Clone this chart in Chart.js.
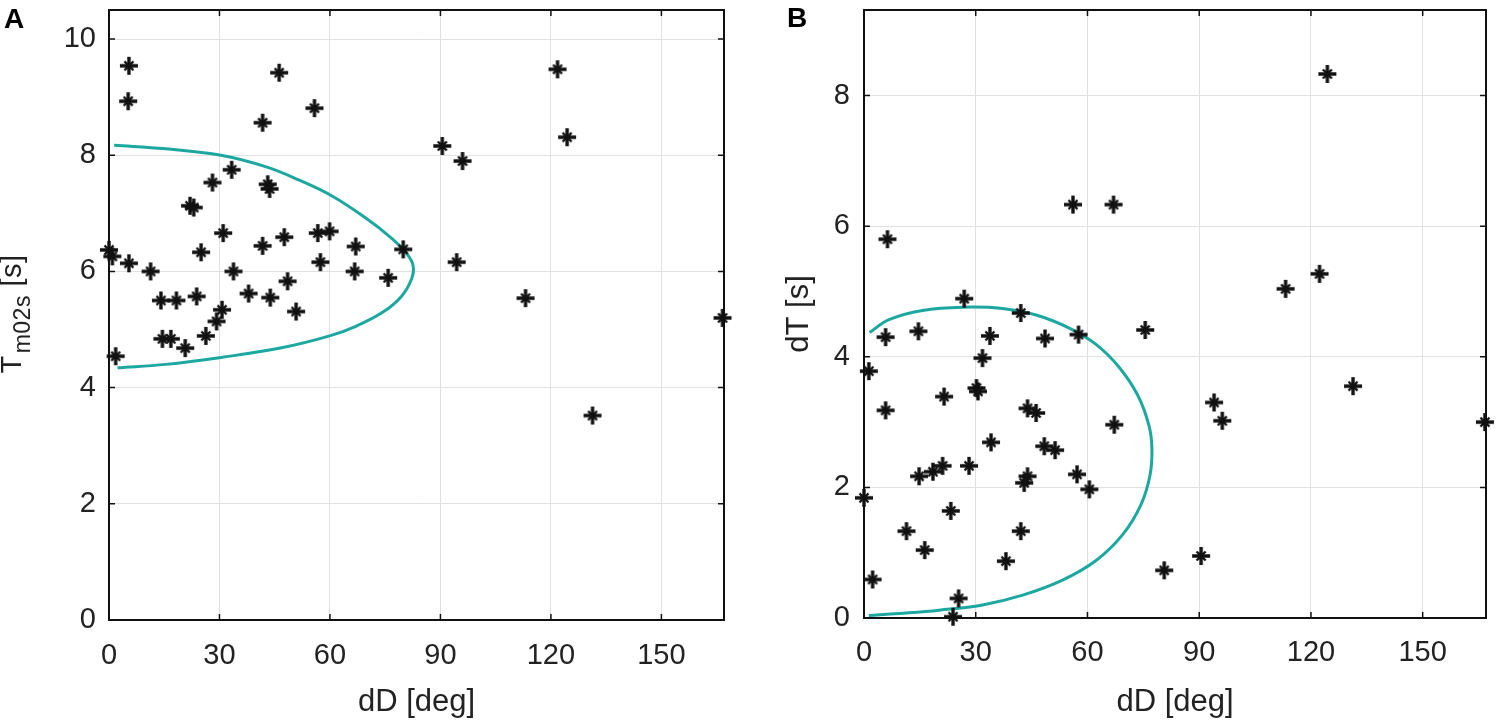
<!DOCTYPE html>
<html>
<head>
<meta charset="utf-8">
<script src="https://cdn.jsdelivr.net/npm/chart.js@4.4.1/dist/chart.umd.min.js"></script>
<style>
  body { margin: 0; background: #fff; }
  #wrap { position: relative; width: 1501px; height: 726px; overflow: hidden; }
  canvas { position: absolute; top: 0; }
  #chartA { left: 0; }
  #chartB { left: 750px; }
  .panel { position: absolute; font-family: "Liberation Sans", Arial, sans-serif;
           font-weight: bold; font-size: 28px; line-height: 1; color: #000; }
</style>
</head>
<body>
<div id="wrap">
  <canvas id="chartA" width="750" height="726"></canvas>
  <canvas id="chartB" width="751" height="726"></canvas>
  <div class="panel" style="left:4px; top:5px;">A</div>
  <div class="panel" style="left:787px; top:4px;">B</div>
</div>
<script>
// ---- panel A : Tm02s vs dD ----
const aDD = [5.4, 5.2, 46.2, 41.7, 55.8, 121.8, 124.4, 90.5, 96.0, 94.4, 113.1, 131.3, 166.6,
             33.3, 28.1, 43.1, 43.6, 22.0, 23.0, 31.0, 47.6, 41.7, 56.7, 59.9, 67.0, 79.9,
             25.0, 0.0, 0.9, 5.4, 11.3, 33.8, 57.4, 66.7, 75.8, 48.5, 14.1, 18.3, 23.8,
             37.9, 43.8, 50.8, 30.7, 29.2, 26.3, 14.5, 16.8, 20.7, 1.8];
const aTm = [9.54, 8.93, 9.42, 8.56, 8.81, 9.48, 8.31, 8.16, 7.90, 6.16, 5.54, 3.52, 5.20,
             7.75, 7.53, 7.50, 7.42, 7.13, 7.10, 6.66, 6.59, 6.44, 6.66, 6.69, 6.43, 6.38,
             6.33, 6.37, 6.26, 6.14, 6.00, 6.00, 6.16, 6.00, 5.89, 5.83, 5.50, 5.50, 5.57,
             5.62, 5.55, 5.31, 5.34, 5.14, 4.89, 4.84, 4.84, 4.68, 4.54];
const aCurveX = [1.4, 15.4, 30.4, 42.7, 51.7, 60.8, 69.9, 76.2, 80.8, 82.6, 82.1, 79.4,
                 74.4, 67.2, 59.9, 47.2, 30.4, 15.4, 2.3];
const aCurveY = [8.17, 8.11, 8.00, 7.80, 7.57, 7.29, 6.91, 6.60, 6.31, 6.09, 5.86, 5.57,
                 5.30, 5.06, 4.89, 4.69, 4.52, 4.40, 4.34];

// ---- panel B : dT vs dD ----
const bDD = [124.4, 56.1, 67.0, 6.3, 122.3, 113.2, 131.3, 94.0, 96.2, 166.7, 90.5, 80.6,
             26.9, 42.1, 5.8, 14.6, 33.8, 48.6, 57.6, 75.5, 31.8, 1.3, 30.2, 30.6, 21.5,
             5.8, 43.9, 46.2, 67.2, 34.1, 48.4, 51.3, 14.8, 18.5, 21.1, 28.2, 43.9, 43.0,
             57.2, 60.5, 0.0, 23.3, 11.4, 42.1, 16.3, 38.1, 2.3, 25.4, 23.9];
const bDT = [8.33, 6.33, 6.33, 5.80, 5.27, 5.04, 3.55, 3.30, 3.02, 3.00, 0.95, 0.73,
             4.89, 4.67, 4.30, 4.39, 4.32, 4.28, 4.34, 4.41, 3.98, 3.78, 3.52, 3.47, 3.39,
             3.18, 3.21, 3.14, 2.96, 2.69, 2.63, 2.57, 2.17, 2.24, 2.33, 2.33, 2.17, 2.07,
             2.20, 1.97, 1.84, 1.64, 1.33, 1.33, 1.04, 0.87, 0.59, 0.30, 0.02];
const bCurveX = [1.5, 6.7, 15.7, 26.5, 37.2, 46.2, 55.1, 62.3, 68.5, 73.5, 76.5, 77.3,
                 76.8, 74.4, 69.5, 62.3, 53.3, 42.6, 31.8, 20.2, 9.4, 1.3];
const bCurveY = [4.37, 4.57, 4.71, 4.76, 4.74, 4.64, 4.44, 4.19, 3.84, 3.41, 2.95, 2.60,
                 2.19, 1.74, 1.28, 0.88, 0.58, 0.35, 0.20, 0.12, 0.07, 0.04];

const xTicks = [0, 30, 60, 90, 120, 150];
const FONT = "'Liberation Sans', Arial, sans-serif";
const TEAL = 'rgb(28,168,160)';

function pts(xs, ys) {
  return xs.map((x, i) => ({ x: x, y: ys[i] }));
}

// marker: heavy plus with a lighter cross, reads like the blurred matlab '*'
function starMarker() {
  const c = document.createElement('canvas');
  c.width = 22; c.height = 22;
  const g = c.getContext('2d');
  g.strokeStyle = '#111';
  g.lineCap = 'butt';
  g.lineWidth = 3.4;
  g.beginPath();
  g.moveTo(11, 2); g.lineTo(11, 20);
  g.moveTo(2, 11); g.lineTo(20, 11);
  g.stroke();
  g.lineWidth = 2.4;
  g.beginPath();
  g.moveTo(6.5, 6.5); g.lineTo(15.5, 15.5);
  g.moveTo(15.5, 6.5); g.lineTo(6.5, 15.5);
  g.stroke();
  return c;
}
const MARK = starMarker();

// black box round the plot with short inward ticks, like the matlab axes
const frame = {
  id: 'frame',
  beforeDatasetsDraw(chart) {
    const { ctx, chartArea: a, scales } = chart;
    ctx.save();
    ctx.strokeStyle = '#111';
    ctx.lineWidth = 1.5;
    ctx.beginPath();
    scales.x.ticks.forEach(t => {
      const p = scales.x.getPixelForValue(t.value);
      ctx.moveTo(p, a.bottom); ctx.lineTo(p, a.bottom - 6);
      ctx.moveTo(p, a.top); ctx.lineTo(p, a.top + 6);
    });
    scales.y.ticks.forEach(t => {
      const p = scales.y.getPixelForValue(t.value);
      ctx.moveTo(a.left, p); ctx.lineTo(a.left + 6, p);
      ctx.moveTo(a.right, p); ctx.lineTo(a.right - 6, p);
    });
    ctx.stroke();
    ctx.lineWidth = 2;
    ctx.strokeRect(a.left, a.top, a.right - a.left, a.bottom - a.top);
    ctx.restore();
  }
};

// y title of panel A needs a subscript: T_m02s [s]
const subTitle = {
  id: 'subTitle',
  afterDraw(chart, args, opts) {
    if (!opts.main) return;
    const ctx = chart.ctx;
    ctx.save();
    ctx.translate(opts.x, opts.y);
    ctx.rotate(-Math.PI / 2);
    ctx.fillStyle = '#222';
    ctx.textBaseline = 'alphabetic';
    ctx.letterSpacing = opts.spacing + 'px';
    const big = opts.size + 'px ' + FONT, small = opts.subSize + 'px ' + FONT;
    ctx.font = big;
    const w1 = ctx.measureText(opts.main).width;
    const w3 = ctx.measureText(opts.tail).width;
    ctx.font = small;
    const w2 = ctx.measureText(opts.sub).width;
    let x = -(w1 + w2 + w3) / 2;
    ctx.font = big;
    ctx.fillText(opts.main, x, 0);
    x += w1 + 2;
    ctx.font = small;
    ctx.fillText(opts.sub, x, opts.shift);
    x += w2;
    ctx.font = big;
    ctx.fillText(opts.tail, x, 0);
    ctx.restore();
  }
};

function makeChart(id, cfg) {
  return new Chart(document.getElementById(id), {
    data: {
      datasets: [
        {
          type: 'line',
          data: pts(cfg.curveX, cfg.curveY),
          borderColor: TEAL,
          borderWidth: 3,
          pointRadius: 0,
          tension: 0.4,
          fill: false,
          order: 2
        },
        {
          type: 'scatter',
          data: pts(cfg.xs, cfg.ys),
          pointStyle: MARK,
          pointRadius: 9,
          clip: false,
          order: 1
        }
      ]
    },
    options: {
      responsive: false,
      devicePixelRatio: 1,
      animation: false,
      layout: { padding: cfg.pad },
      plugins: {
        legend: { display: false },
        tooltip: { enabled: false },
        subTitle: cfg.subTitle || {}
      },
      scales: {
        x: {
          type: 'linear',
          min: 0,
          max: 167,
          afterFit: s => { s.height = cfg.xh; s.paddingLeft = 0; s.paddingRight = 0; },
          afterBuildTicks: s => { s.ticks = xTicks.map(v => ({ value: v })); },
          grid: { color: '#e0e0e0', lineWidth: 1, drawTicks: false },
          border: { display: false },
          ticks: { font: { family: FONT, size: 29 }, color: '#222', padding: cfg.xtp },
          title: { display: true, text: 'dD [deg]', color: '#222',
                   font: { family: FONT, size: 31 }, padding: { top: 0, bottom: 5 } }
        },
        y: {
          type: 'linear',
          min: 0,
          max: cfg.ymax,
          afterFit: s => { s.width = cfg.yw; s.paddingTop = 0; s.paddingBottom = 0; },
          afterBuildTicks: s => { s.ticks = cfg.yTicks.map(v => ({ value: v })); },
          grid: { color: '#e0e0e0', lineWidth: 1, drawTicks: false },
          border: { display: false },
          ticks: { font: { family: FONT, size: 29 }, color: '#222', padding: cfg.ytp },
          title: { display: !!cfg.ytitle, text: cfg.ytitle || '', color: '#222',
                   font: { family: FONT, size: 31 }, padding: { top: 31, bottom: 0 } }
        }
      }
    },
    plugins: [frame, subTitle]
  });
}

makeChart('chartA', {
  xs: aDD, ys: aTm, curveX: aCurveX, curveY: aCurveY,
  ymax: 10.5, yTicks: [0, 2, 4, 6, 8, 10],
  pad: { left: 0, top: 8, right: 26, bottom: 0 },
  yw: 109, xh: 106, xtp: 19, ytp: 13,
  subTitle: { main: 'T', sub: 'm02s', tail: ' [s]', x: 21, y: 315,
              size: 29, subSize: 23, shift: 9, spacing: 0.5 }
});

makeChart('chartB', {
  xs: bDD, ys: bDT, curveX: bCurveX, curveY: bCurveY,
  ymax: 9.31, yTicks: [0, 2, 4, 6, 8],
  pad: { left: 0, top: 4, right: 15, bottom: 0 },
  yw: 114, xh: 108, xtp: 18, ytp: 14,
  ytitle: 'dT [s]'
});
</script>
</body>
</html>
